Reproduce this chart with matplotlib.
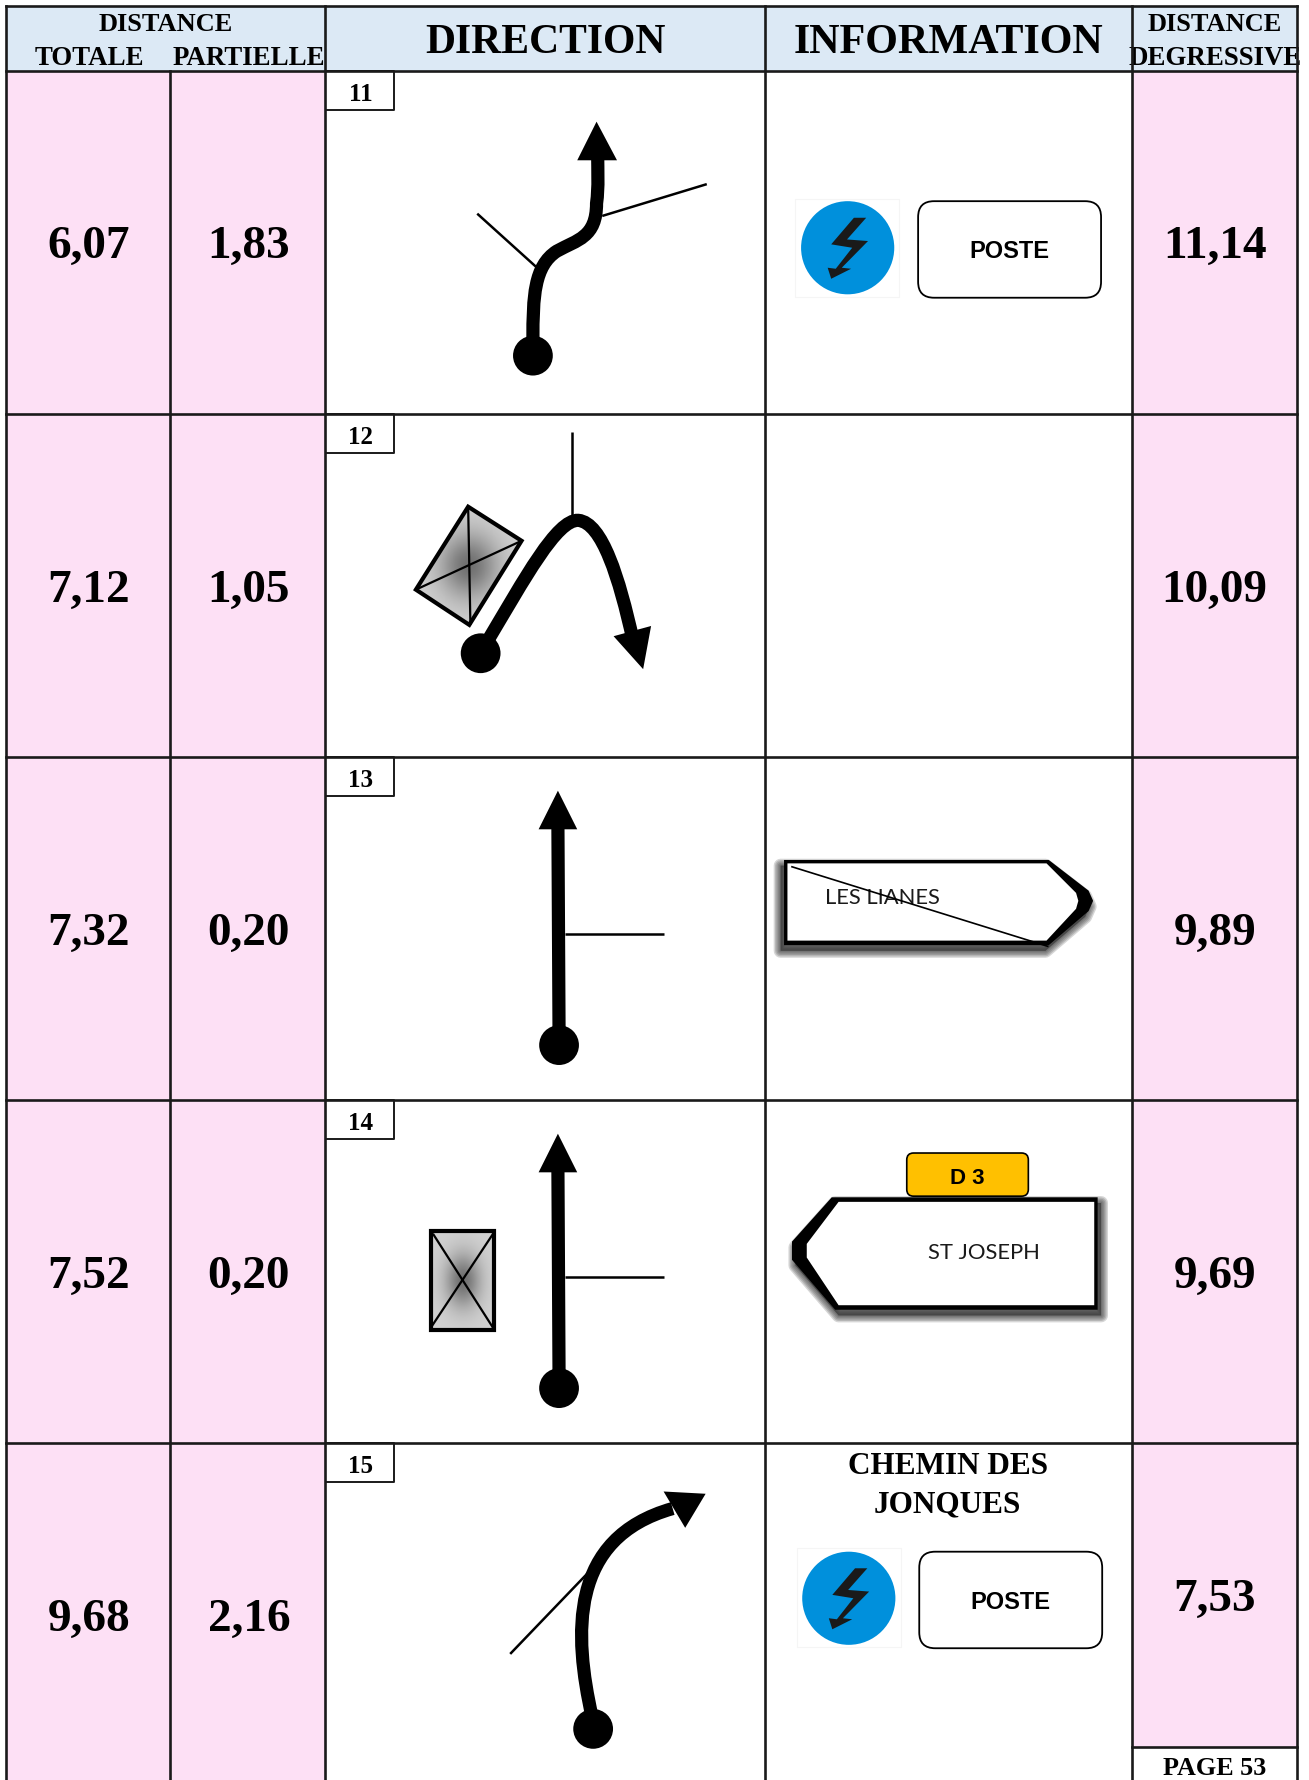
import numpy as np
import matplotlib
matplotlib.use("Agg")
from matplotlib import pyplot as plt
from matplotlib.patches import Polygon, Circle, Rectangle, FancyBboxPatch, PathPatch
from matplotlib.path import Path

# table content
totale     = ["6,07", "7,12", "7,32", "7,52", "9,68"]
partielle  = ["1,83", "1,05", "0,20", "0,20", "2,16"]
degressive = ["11,14", "10,09", "9,89", "9,69", "7,53"]
steps      = ["11", "12", "13", "14", "15"]

# grid, in the coordinates of the shrunk reference (1152 x 1568)
colLines = [5, 150, 286, 673, 996, 1141]
rowLines = [63.5, 365.5, 667.5, 969.5, 1271.5, 1573.5]
top      = 6
pageTop  = 1539

ink   = "#000000"
pink  = "#FDE0F5"
blue  = "#DCE9F5"
serif = "Liberation Serif"
sans  = "Liberation Sans"

fig = plt.figure(figsize=(13.09, 17.81), dpi=100)
ax = fig.add_axes([0, 0, 1, 1])
ax.set_xlim(0, 1152)
ax.set_ylim(1568, 0)
ax.axis("off")

def gridLine(x0, y0, x1, y1):
    ax.plot([x0, x1], [y0, y1], color="#1a1a1a", lw=1.9, solid_capstyle="projecting", zorder=5)

def road(verts, codes):
    ax.add_patch(PathPatch(Path(verts, codes), fc="none", ec="black", lw=9.5, capstyle="butt", zorder=3))

def thin(x0, y0, x1, y1, lw=1.8):
    ax.plot([x0, x1], [y0, y1], color="black", lw=lw, zorder=2, solid_capstyle="butt")

def head(pts):
    ax.add_patch(Polygon(pts, closed=True, fc="black", ec="none", zorder=4))

def dot(x, y):
    ax.add_patch(Circle((x, y), 17.5, fc="black", ec="none", zorder=4))

def greyBox(corners, diag1, diag2):
    # grey box, darker only around its centre
    xs = [c[0] for c in corners]
    ys = [c[1] for c in corners]
    gx, gy = np.meshgrid(np.linspace(-1, 1, 120), np.linspace(-1, 1, 120))
    shade = 0.82 - 0.38 * np.exp(-(gx ** 2 + gy ** 2) / 0.3)
    im = ax.imshow(shade, extent=[min(xs), max(xs), max(ys), min(ys)], cmap="gray", vmin=0, vmax=1,
                   aspect="auto", zorder=2, interpolation="bilinear")
    poly = Polygon(corners, closed=True, fc="none", ec="black", lw=3, joinstyle="miter", zorder=3)
    ax.add_patch(poly)
    im.set_clip_path(poly)
    thin(diag1[0], diag1[1], diag1[2], diag1[3], 1.6)
    thin(diag2[0], diag2[1], diag2[2], diag2[3], 1.6)

def posteSign(cx, cy, sq, bx, by):
    ax.add_patch(Rectangle((sq[0], sq[1]), sq[2] - sq[0], sq[3] - sq[1], fc="white", ec="#f5f5f5", lw=0.8, zorder=2))
    ax.add_patch(Circle((cx, cy), 41, fc="#0090DC", ec="none", zorder=3))
    bolt = [(5.5, -26.4), (16.3, -26.4), (-0.6, -7.3), (17.9, -5.9), (-5.2, 17.6), (3, 18.5),
            (-14.5, 27.3), (-17.6, 17.6), (-10.5, 18.5), (4, 0), (-14.5, -3)]
    ax.add_patch(Polygon([(cx + a, cy + b) for a, b in bolt], closed=True, fc="#1a1a1a", ec="none", zorder=4))
    ax.add_patch(FancyBboxPatch((bx + 14, by + 14), 161 - 28, 85 - 28, boxstyle="round,pad=14,rounding_size=14",
                                fc="white", ec="black", lw=1.3, zorder=3))
    ax.text(bx + 80.5, by + 49.5, "POSTE", family=sans, weight="bold", fontsize=17, ha="center", va="baseline",
            color=ink, zorder=4)

def shadow(pts, dx, dy):
    off = [(x + dx, y + dy) for x, y in pts]
    for lw in [10, 8, 6, 4, 2]:
        ax.add_patch(Polygon(off, closed=True, fc="#333333", ec="#333333", lw=lw, alpha=0.2,
                             joinstyle="round", zorder=1))

def roadSign(outer, inner, dx, dy):
    shadow(outer, dx, dy)
    ax.add_patch(Polygon(outer, closed=True, fc="black", ec="none", zorder=2))
    ax.add_patch(Polygon(inner, closed=True, fc="white", ec="none", zorder=3))

# backgrounds
ax.add_patch(Rectangle((colLines[0], top), colLines[5] - colLines[0], rowLines[0] - top, fc=blue, ec="none", zorder=0))
ax.add_patch(Rectangle((colLines[0], rowLines[0]), colLines[2] - colLines[0], 1568 - rowLines[0], fc=pink, ec="none", zorder=0))
ax.add_patch(Rectangle((colLines[4], rowLines[0]), colLines[5] - colLines[4], pageTop - rowLines[0], fc=pink, ec="none", zorder=0))

# grid
gridLine(colLines[0], top, colLines[5], top)
for y in rowLines[:5]:
    gridLine(colLines[0], y, colLines[5], y)
for x in [colLines[0], colLines[2], colLines[3], colLines[4], colLines[5]]:
    gridLine(x, top, x, 1575)
gridLine(colLines[1], rowLines[0], colLines[1], 1575)
gridLine(colLines[4], pageTop, colLines[5], pageTop)

# header
ax.text(146, 27, "DISTANCE", family=serif, weight="bold", fontsize=19, ha="center", color=ink)
ax.text(79, 57, "TOTALE", family=serif, weight="bold", fontsize=19.4, ha="center", color=ink)
ax.text(219, 57, "PARTIELLE", family=serif, weight="bold", fontsize=19.4, ha="center", color=ink)
ax.text(480, 47, "DIRECTION", family=serif, weight="bold", fontsize=30, ha="center", color=ink)
ax.text(834.5, 47, "INFORMATION", family=serif, weight="bold", fontsize=30.3, ha="center", color=ink)
ax.text(1069, 27, "DISTANCE", family=serif, weight="bold", fontsize=19, ha="center", color=ink)
deg = ax.text(1069, 57, "DEGRESSIVE", family=serif, weight="bold", fontsize=19.4, ha="center", color=ink)
deg.set_clip_path(Rectangle((996, top), 145, 57, transform=ax.transData))

# numbers of each row
for i in range(5):
    y0 = rowLines[i]
    base = (rowLines[i] + rowLines[i + 1]) / 2 + 13
    ax.text(78, base, totale[i], family=serif, weight="bold", fontsize=34, ha="center", color=ink)
    ax.text(219, base, partielle[i], family=serif, weight="bold", fontsize=34, ha="center", color=ink)
    yDeg = base if i < 4 else 1418
    ax.text(1069, yDeg, degressive[i], family=serif, weight="bold", fontsize=34, ha="center", color=ink)
    ax.plot([287, 347, 347, 287], [y0 + 34, y0 + 34, y0, y0], color="#1a1a1a", lw=1.4, zorder=4)
    ax.text(317.5, y0 + 25, steps[i], family=serif, weight="bold", fontsize=18, ha="center", color=ink, zorder=5)

ax.text(1069, 1563, "PAGE 53", family=serif, weight="bold", fontsize=18.8, ha="center", color=ink)

# row 11
thin(420, 189, 472, 236)
thin(530, 191, 622, 163)
road([(469, 300), (469, 262), (470, 235), (490, 222), (508, 212), (525, 210), (525, 180), (527, 165), (526, 150), (526, 138)],
     [Path.MOVETO, Path.CURVE4, Path.CURVE4, Path.CURVE4, Path.CURVE4, Path.CURVE4, Path.CURVE4, Path.CURVE4, Path.CURVE4, Path.CURVE4])
head([(525, 108), (508, 142), (543, 142)])
dot(469, 314)

# row 12
thin(503, 381, 503, 458)
road([(428, 567), (462, 510), (490, 458), (509, 459), (530, 461), (545, 510), (557, 564)],
     [Path.MOVETO, Path.CURVE4, Path.CURVE4, Path.CURVE4, Path.CURVE4, Path.CURVE4, Path.CURVE4])
head([(566, 590), (540, 561), (573, 552)])
dot(423, 576)
greyBox([(412, 447), (459, 477), (413, 551), (366, 520)], (412, 447, 414, 551), (366, 520, 459, 477))

# row 13
thin(497, 823, 584, 823)
road([(492, 910), (491, 728)], [Path.MOVETO, Path.LINETO])
head([(491, 697), (474, 731), (508, 731)])
dot(492, 921)

# row 14
thin(497, 1125, 584, 1125)
road([(492, 1212), (491, 1030)], [Path.MOVETO, Path.LINETO])
head([(491, 999), (474, 1033), (508, 1033)])
dot(492, 1223)
greyBox([(379, 1085), (435, 1085), (435, 1172), (379, 1172)], (381, 1087, 434, 1170), (379, 1170, 434, 1087))

# row 15
thin(449, 1457, 520, 1383)
road([(521, 1512), (505, 1440), (500, 1355), (592, 1329)], [Path.MOVETO, Path.CURVE4, Path.CURVE4, Path.CURVE4])
head([(621, 1316), (584, 1314), (603, 1346)])
dot(522, 1523)

# information column
posteSign(746, 219, (700, 176, 791, 262), 808, 178)
posteSign(747, 1408, (701, 1364, 793, 1451), 809, 1367)

roadSign([(690, 758), (923, 758), (958, 785), (962, 794), (958, 803), (923, 833), (690, 833)],
         [(693, 761), (921, 761), (947, 787), (949, 794), (947, 801), (921, 829), (693, 829)], -3, 5)
ax.text(726, 796, "LES LIANES", family="Lato", fontsize=15.8, ha="left", color="#1a1a1a", zorder=4)
ax.plot([697, 922], [764, 834], color="black", lw=1.2, zorder=5)

roadSign([(697, 1094), (732, 1055), (966, 1055), (966, 1154), (735, 1154), (697, 1110)],
         [(710, 1096), (738, 1059), (963, 1059), (963, 1150), (738, 1150), (710, 1108)], 3, 5)
ax.text(866, 1108, "ST JOSEPH", family="Lato", fontsize=15.8, ha="center", color="#1a1a1a", zorder=4)
ax.add_patch(FancyBboxPatch((804, 1022), 95, 26, boxstyle="round,pad=6,rounding_size=6",
                            fc="#FFC000", ec="black", lw=1.2, zorder=5))
ax.text(851.5, 1042, "D 3", family=sans, weight="bold", fontsize=16, ha="center", color=ink, zorder=6)

ax.text(834, 1298, "CHEMIN DES", family=serif, weight="bold", fontsize=22.5, ha="center", color=ink)
ax.text(834, 1332, "JONQUES", family=serif, weight="bold", fontsize=22.5, ha="center", color=ink)

ax.set_xlim(0, 1152)
ax.set_ylim(1568, 0)
fig.savefig("out.png", dpi=100)
